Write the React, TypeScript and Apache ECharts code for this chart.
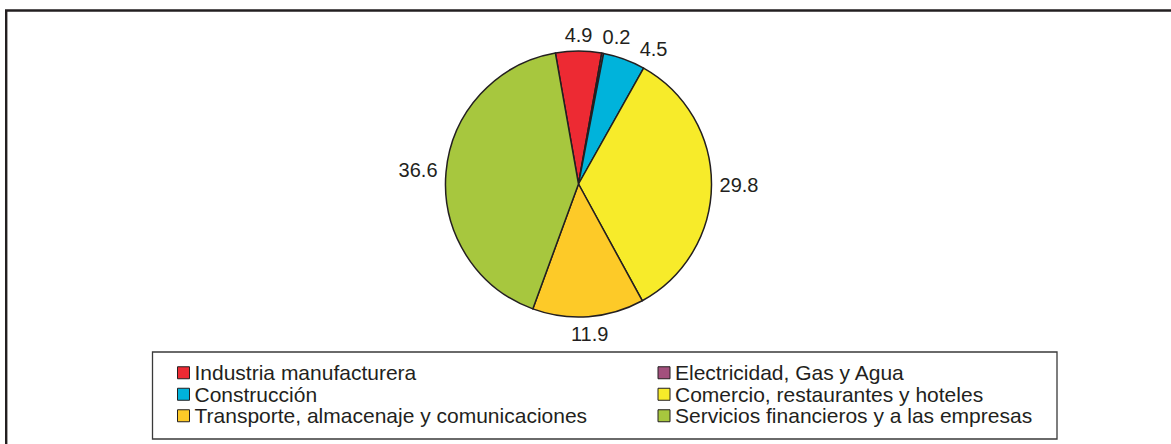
import React, { useEffect, useRef } from "react";
import * as echarts from "echarts";

const categories = [
  "Industria manufacturera",
  "Electricidad, Gas y Agua",
  "Construcción",
  "Comercio, restaurantes y hoteles",
  "Transporte, almacenaje y comunicaciones",
  "Servicios financieros y a las empresas",
];
const values = [4.9, 0.2, 4.5, 29.8, 11.9, 36.6];
const colors = ["#ED2A33", "#A3507D", "#00B3DB", "#F7EB2A", "#FDCA28", "#A7C73E"];

const FONT = "'Liberation Sans', Arial, Helvetica, sans-serif";
const TEXT = "#231F20";
const CX = 578.5;
const CY = 184;
const R = 133;
const START = 100;

export default function App() {
  const ref = useRef<HTMLDivElement>(null);
  useEffect(() => {
    if (!ref.current) return;
    const chart = echarts.init(ref.current, null, { renderer: "svg" });
    const total = values.reduce((a, b) => a + b, 0);
    const mids: number[] = [];
    let cum = 0;
    values.forEach((v) => {
      mids.push((90 - START) + ((cum + v / 2) / total) * 360);
      cum += v;
    });
    let placed: { x0: number; x1: number; y0: number; y1: number }[] = [];
    const place = (deg: number, w: number, h: number) => {
      const th = (deg * Math.PI) / 180;
      const dx = Math.sin(th);
      const dy = -Math.cos(th);
      const d = 8 + (Math.abs(dx) * w) / 2 + Math.abs(dy) * h * 0.38;
      return { x: CX + dx * (R + d), y: CY + dy * (R + d) };
    };
    chart.setOption({
      animation: false,
      backgroundColor: "#ffffff",
      graphic: [
        {
          type: "rect",
          shape: { x: 6.2, y: 10.5, width: 1300, height: 600 },
          style: { fill: "none", stroke: TEXT, lineWidth: 2.4 },
          silent: true,
        },
        {
          type: "rect",
          shape: { x: 152.5, y: 352, width: 904.5, height: 87 },
          style: { fill: "none", stroke: "#3a3a3a", lineWidth: 1.3 },
          silent: true,
        },
      ],
      legend: {
        left: 177,
        top: 362,
        width: 970,
        orient: "horizontal",
        padding: 0,
        itemGap: 0,
        itemWidth: 12,
        itemHeight: 12,
        itemTextGap: 5,
        icon: "rect",
        itemStyle: { borderColor: TEXT, borderWidth: 1 },
        textStyle: {
          fontFamily: FONT,
          fontSize: 21,
          color: TEXT,
          width: 463,
          lineHeight: 21.5,
        },
        data: categories,
      },
      series: [
        {
          type: "pie",
          center: [CX, CY],
          radius: R,
          startAngle: START,
          clockwise: true,
          data: categories.map((name, i) => ({
            name,
            value: values[i],
            itemStyle: { color: colors[i] },
          })),
          itemStyle: { borderColor: TEXT, borderWidth: 1.5 },
          emphasis: { disabled: true },
          label: {
            show: true,
            position: "outside",
            formatter: (p: any) => String(values[p.dataIndex]),
            fontFamily: FONT,
            fontSize: 20,
            color: TEXT,
          },
          labelLine: { show: false },
          labelLayout: (params: any) => {
            const i = params.dataIndex;
            if (i === 0) placed = [];
            const w = params.labelRect.width;
            const h = params.labelRect.height;
            const vh = h * 0.35;
            let deg = mids[i];
            let pos = place(deg, w, h);
            for (let k = 0; k < 120; k++) {
              const r = { x0: pos.x - w / 2, x1: pos.x + w / 2, y0: pos.y - vh, y1: pos.y + vh };
              const hit = placed.some(
                (q) => r.x0 < q.x1 + 9 && r.x1 > q.x0 - 9 && r.y0 < q.y1 && r.y1 > q.y0
              );
              if (!hit) break;
              deg += 0.5;
              pos = place(deg, w, h);
            }
            placed.push({ x0: pos.x - w / 2, x1: pos.x + w / 2, y0: pos.y - vh, y1: pos.y + vh });
            return {
              x: pos.x,
              y: pos.y,
              align: "center",
              verticalAlign: "middle",
            };
          },
        },
      ],
    });
    return () => chart.dispose();
  }, []);
  return (
    <div
      ref={ref}
      style={{ position: "absolute", left: 0, top: 0, width: 1171, height: 444 }}
    />
  );
}
